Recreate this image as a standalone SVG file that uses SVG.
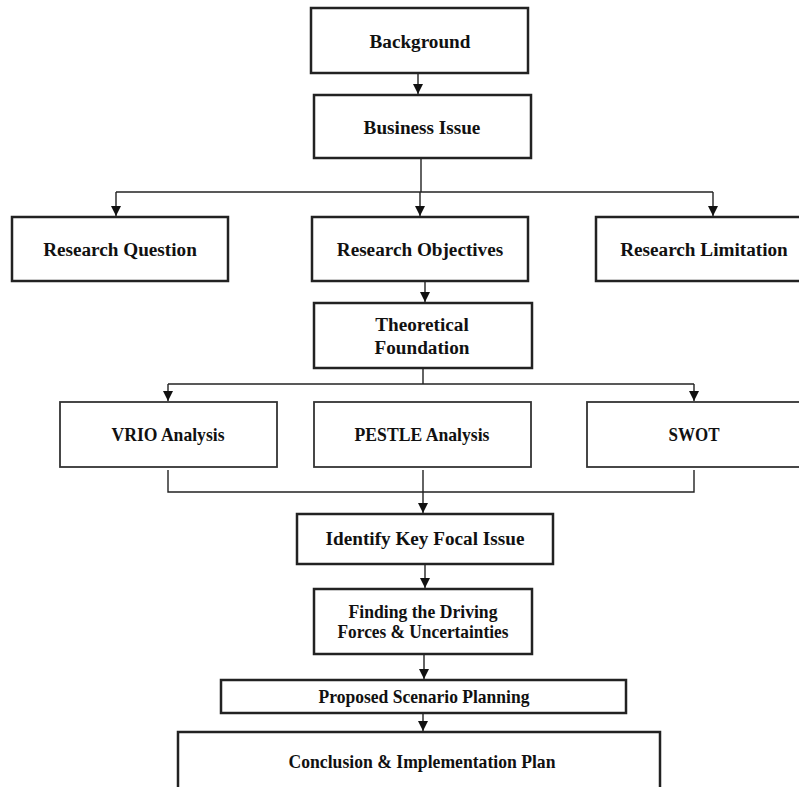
<svg xmlns="http://www.w3.org/2000/svg" width="799" height="787" viewBox="0 0 799 787">
<style>
.box{fill:#fff;stroke:#222;stroke-width:2.5}
.thin{fill:#fff;stroke:#333;stroke-width:1.8}
text{font-family:'Liberation Serif','Tinos','DejaVu Serif',serif;font-weight:700;font-size:19.2px;fill:#111;text-anchor:middle}
text.s{font-size:18.8px}
.c{fill:none;stroke:#222;stroke-width:1.4}
</style>
<defs>
<marker id="ah" markerWidth="10" markerHeight="10" viewBox="0 0 10 10" refX="10" refY="5" orient="auto" markerUnits="userSpaceOnUse">
<path d="M0,0 L10,5 L0,10 Z" fill="#111"/>
</marker>
</defs>
<rect width="799" height="787" fill="#fff"/>
<g id="connectors">
<path class="c" d="M418,73 V94" marker-end="url(#ah)"/>
<path class="c" d="M421,158 V192"/>
<path class="c" d="M116,192 H713"/>
<path class="c" d="M116,192 V216" marker-end="url(#ah)"/>
<path class="c" d="M420,192 V216" marker-end="url(#ah)"/>
<path class="c" d="M713,192 V216" marker-end="url(#ah)"/>
<path class="c" d="M425,281 V302" marker-end="url(#ah)"/>
<path class="c" d="M423,368 V384"/>
<path class="c" d="M168,384 H694"/>
<path class="c" d="M168,384 V401" marker-end="url(#ah)"/>
<path class="c" d="M694,384 V401" marker-end="url(#ah)"/>
<path class="c" d="M168,470 V492 H694 V470"/>
<path class="c" d="M423,470 V513" marker-end="url(#ah)"/>
<path class="c" d="M425,564 V588" marker-end="url(#ah)"/>
<path class="c" d="M424,654 V679" marker-end="url(#ah)"/>
<path class="c" d="M423,713 V731" marker-end="url(#ah)"/>
</g>
<g id="background"><rect class="box" x="311" y="8" width="217" height="65"/><text x="420" y="48">Background</text></g>
<g id="business-issue"><rect class="box" x="314" y="95" width="217" height="63"/><text x="422" y="134">Business Issue</text></g>
<g id="research-question"><rect class="box" x="12" y="217" width="216" height="64"/><text x="120" y="256">Research Question</text></g>
<g id="research-objectives"><rect class="box" x="312" y="217" width="216" height="64"/><text x="420" y="256">Research Objectives</text></g>
<g id="research-limitation"><rect class="box" x="596" y="217" width="210" height="64"/><text x="704" y="256">Research Limitation</text></g>
<g id="theoretical-foundation"><rect class="box" x="314" y="303" width="218" height="65"/><text x="422" y="331">Theoretical</text><text x="422" y="354">Foundation</text></g>
<g id="vrio"><rect class="thin" x="60" y="402" width="217" height="65"/><text class="s" x="168" y="441" textLength="113" lengthAdjust="spacingAndGlyphs">VRIO Analysis</text></g>
<g id="pestle"><rect class="thin" x="314" y="402" width="217" height="65"/><text class="s" x="422" y="441" textLength="135" lengthAdjust="spacingAndGlyphs">PESTLE Analysis</text></g>
<g id="swot"><rect class="thin" x="587" y="402" width="220" height="65"/><text class="s" x="694" y="441" textLength="51" lengthAdjust="spacingAndGlyphs">SWOT</text></g>
<g id="identify"><rect class="box" x="297" y="514" width="256" height="50"/><text x="425" y="545">Identify Key Focal Issue</text></g>
<g id="finding"><rect class="box" x="314" y="589" width="218" height="65"/><text class="s" x="423" y="618" textLength="149" lengthAdjust="spacingAndGlyphs">Finding the Driving</text><text class="s" x="423" y="638" textLength="171" lengthAdjust="spacingAndGlyphs">Forces &amp; Uncertainties</text></g>
<g id="proposed"><rect class="box" x="221" y="680" width="405" height="33"/><text class="s" x="424" y="703" textLength="211" lengthAdjust="spacingAndGlyphs">Proposed Scenario Planning</text></g>
<g id="conclusion"><rect class="box" x="178" y="732" width="482" height="70"/><text class="s" x="422" y="768" textLength="267" lengthAdjust="spacingAndGlyphs">Conclusion &amp; Implementation Plan</text></g>
</svg>
